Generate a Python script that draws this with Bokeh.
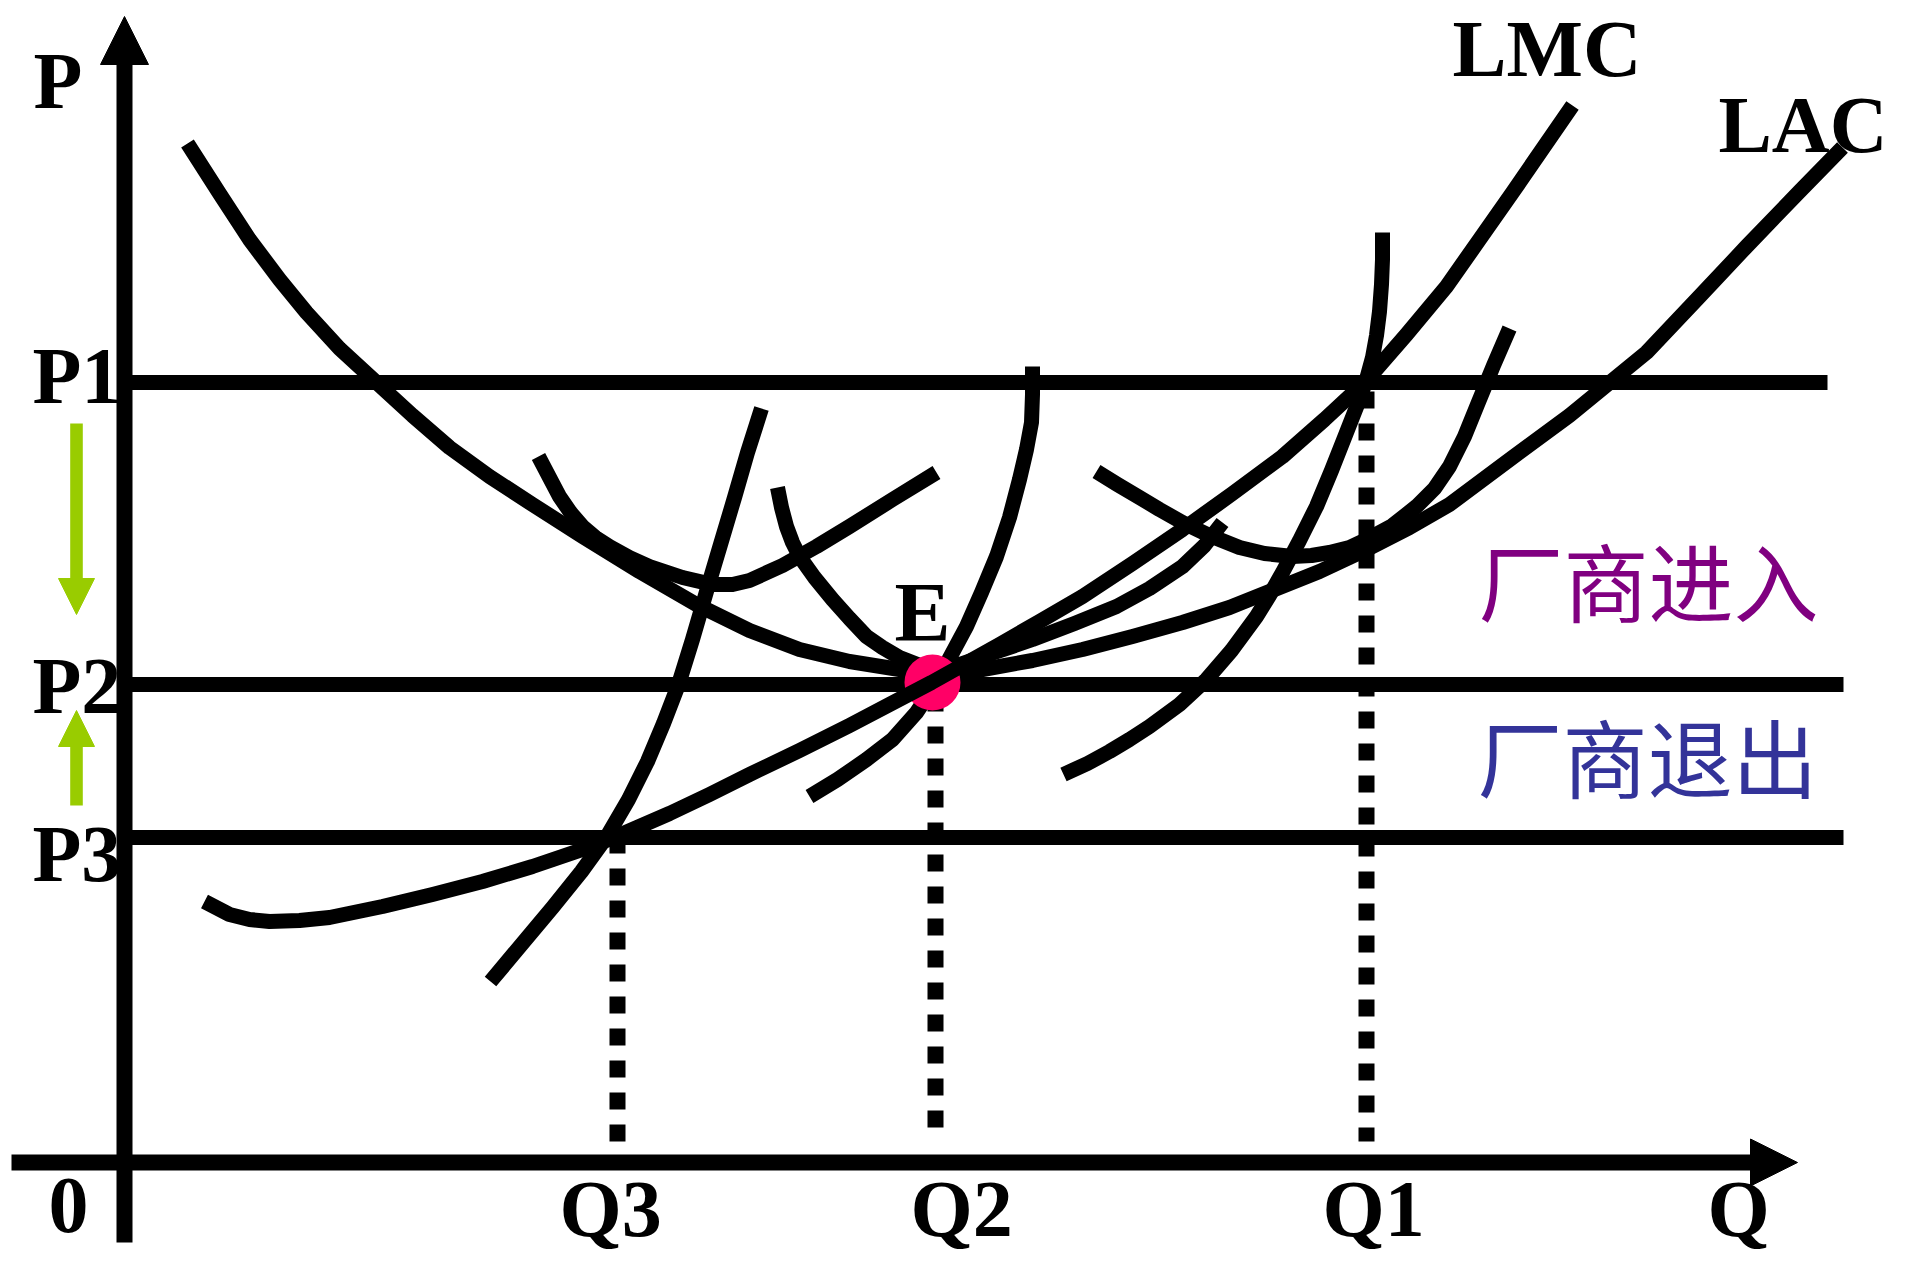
from bokeh.plotting import figure
from bokeh.models import Range1d, Label, Arrow, NormalHead
from bokeh.embed import file_html
from bokeh.resources import INLINE

# ---- key levels (arbitrary units: Q to the right of origin, P above origin) ----
P_LEVELS = {"P1": 780, "P2": 478, "P3": 325}
Q_LEVELS = {"Q3": 493, "Q2": 811, "Q1": 1242}
P_LINE_END = [1703, 1719, 1719]

# ---- curves ----
lac_q = [63, 95, 125, 155, 182, 215, 252, 288, 325, 365, 408, 458, 515, 572, 625, 675, 725, 775,
         810, 858, 908, 958, 1008, 1058, 1105, 1145, 1195, 1242, 1285, 1325, 1388, 1445, 1522,
         1575, 1622, 1675, 1718]
lac_p = [1019, 969, 923, 883, 850, 814, 780, 747, 715, 686, 658, 626, 591, 558, 532, 513, 501, 493,
         490, 493, 502, 513, 526, 540, 555, 571, 591, 613, 635, 658, 705, 747, 810,
         866, 916, 971, 1015]

lmc_q = [80, 105, 125, 145, 175, 205, 258, 308, 358, 408, 458, 492, 545, 585, 625, 675, 725, 765,
         807, 875, 915, 958, 1008, 1058, 1108, 1158, 1200, 1242, 1282, 1322, 1355, 1388, 1448]
lmc_p = [261, 248, 243, 241, 242, 245, 256, 268, 281, 296, 313, 326, 349, 368, 388, 412, 437, 458,
         480, 518, 541, 566, 599, 633, 669, 706, 743, 782, 828, 876, 923, 970, 1057]

sac1_q = [414, 425, 435, 446, 458, 471, 485, 505, 525, 558, 588, 608, 625, 658, 692, 725, 768, 812]
sac1_p = [706, 685, 666, 650, 636, 625, 616, 605, 596, 585, 578, 578, 582, 597, 616, 636, 663, 690]

smc1_q = [366, 397, 428, 457, 483, 504, 523, 539, 554, 568, 582, 596, 610, 623, 637]
smc1_p = [181, 218, 255, 291, 327, 363, 401, 439, 478, 523, 571, 618, 665, 710, 754]

sac2_q = [653, 657, 662, 668, 675, 690, 708, 725, 742, 758, 775, 793, 810, 832, 870, 908, 950,
          992, 1025, 1058, 1080, 1098]
sac2_p = [675, 655, 636, 620, 606, 585, 563, 544, 526, 515, 505, 498, 494, 497, 510, 523, 539,
          556, 574, 596, 617, 640]

smc2_q = [685, 713, 742, 768, 792, 812, 827, 842, 857, 872, 885, 895, 902, 907, 908, 908]
smc2_p = [366, 383, 403, 423, 450, 480, 508, 536, 570, 606, 645, 683, 713, 740, 768, 796]

sac3_q = [972, 993, 1015, 1035, 1058, 1085, 1115, 1140, 1168, 1187, 1205, 1225, 1242, 1268, 1292,
          1310, 1325, 1340, 1353, 1369, 1385]
sac3_p = [691, 678, 665, 653, 640, 627, 615, 609, 606, 607, 610, 615, 623, 637, 656,
          674, 696, 726, 758, 797, 834]

smc3_q = [939, 963, 985, 1005, 1025, 1055, 1082, 1107, 1132, 1145, 1158, 1175, 1192, 1207, 1222,
          1233, 1242, 1248, 1252, 1255, 1257, 1258, 1258]
smc3_p = [388, 399, 411, 423, 436, 458, 483, 512, 546, 567, 590, 622, 656, 692, 730,
          758, 783, 805, 827, 851, 878, 903, 930]

# axis extents
Q_AXIS = [-113, 1673]
P_AXIS = [-80, 1146]

BLACK = "black"
LW = 15

p = figure(width=1892, height=1256,
           x_range=Range1d(-124, 1768), y_range=Range1d(-94, 1162),
           output_backend="svg", toolbar_location=None,
           x_axis_type=None, y_axis_type=None, min_border=0)
p.outline_line_color = None
p.background_fill_color = "white"
p.border_fill_color = "white"

# horizontal price lines
for (name, lvl), end in zip(P_LEVELS.items(), P_LINE_END):
    p.line([0, end], [lvl, lvl], line_width=LW, line_color=BLACK)

# dotted quantity lines
dot_top = {"Q3": P_LEVELS["P3"] + 1, "Q2": P_LEVELS["P2"] - 10, "Q1": P_LEVELS["P1"] - 9}
for name, q in Q_LEVELS.items():
    p.line([q, q], [dot_top[name], 21], line_width=16, line_color=BLACK, line_dash="17 15")

# curves (LMC drawn last, on top of the dot)
for qs, ps in [(lac_q, lac_p), (sac1_q, sac1_p), (smc1_q, smc1_p), (sac2_q, sac2_p),
               (smc2_q, smc2_p), (sac3_q, sac3_p), (smc3_q, smc3_p)]:
    p.line(qs, ps, line_width=LW, line_color=BLACK, line_join="round")

p.scatter([Q_LEVELS["Q2"] - 3], [P_LEVELS["P2"] + 2], size=56, fill_color="#FF0066",
          line_color=None)

p.line(lmc_q, lmc_p, line_width=LW, line_color=BLACK, line_join="round")

# axes with arrowheads
p.add_layout(Arrow(end=NormalHead(size=48, fill_color=BLACK, line_color=BLACK),
                   x_start=0, y_start=P_AXIS[0], x_end=0, y_end=P_AXIS[1],
                   line_width=16, line_color=BLACK))
p.add_layout(Arrow(end=NormalHead(size=47, fill_color=BLACK, line_color=BLACK),
                   x_start=Q_AXIS[0], y_start=0, x_end=Q_AXIS[1], y_end=0,
                   line_width=16, line_color=BLACK))

# green adjustment arrows
GREEN = "#99CC00"
p.add_layout(Arrow(end=NormalHead(size=36, fill_color=GREEN, line_color=GREEN),
                   x_start=-48, y_start=739, x_end=-48, y_end=548,
                   line_width=12.6, line_color=GREEN))
p.add_layout(Arrow(end=NormalHead(size=36, fill_color=GREEN, line_color=GREEN),
                   x_start=-48, y_start=357, x_end=-48, y_end=452,
                   line_width=12.6, line_color=GREEN))

# labels
def lab(txt, x, y, size="80px"):
    p.add_layout(Label(x=x, y=y, text=txt, text_font="Liberation Serif",
                       text_font_style="bold", text_font_size=size, text_color=BLACK,
                       text_align="left", text_baseline="alphabetic"))

lab("P", -91, 1082)
lab("P1", -92, 787)
lab("P2", -92, 477)
lab("P3", -92, 309)
lab("0", -76, -43)
lab("Q3", 435, -46)
lab("Q2", 786, -46)
lab("Q1", 1198, -46)
lab("Q", 1583, -46)
lab("LMC", 1328, 1114, "81px")
lab("LAC", 1594, 1038, "80px")
lab("E", 770, 550, "84px")

p.add_layout(Label(x=1524, y=584, text="厂商进入", text_font="Noto Sans CJK SC",
                   text_font_size="85px", text_color="#800080",
                   text_align="center", text_baseline="middle"))
p.add_layout(Label(x=1523, y=408, text="厂商退出", text_font="Noto Sans CJK SC",
                   text_font_size="85px", text_color="#333399",
                   text_align="center", text_baseline="middle"))

open("out.html", "w").write(file_html(p, INLINE))
